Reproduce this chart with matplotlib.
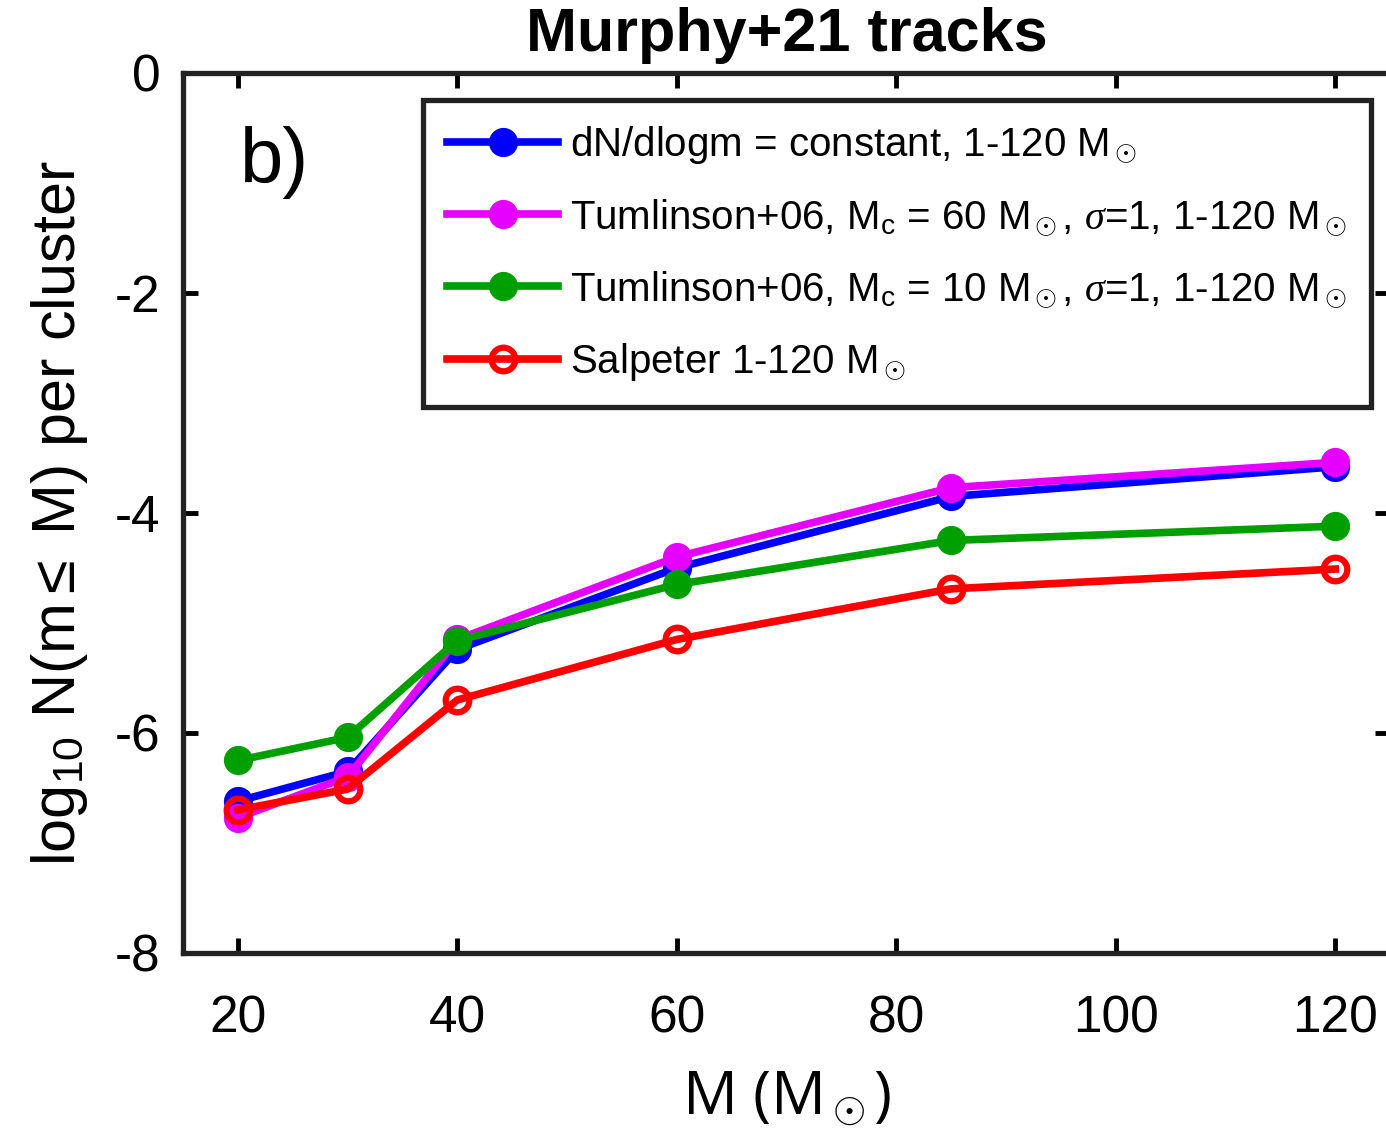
import matplotlib.pyplot as plt

plt.rcParams['font.family'] = ['Liberation Sans', 'DejaVu Sans']
plt.rcParams['mathtext.fontset'] = 'custom'
plt.rcParams['mathtext.rm'] = 'Liberation Sans'
plt.rcParams['mathtext.it'] = 'Liberation Serif:italic'
plt.rcParams['axes.unicode_minus'] = False

mass = [20, 30, 40, 60, 85, 120]
n_const = [-6.62, -6.35, -5.24, -4.50, -3.85, -3.58]
n_tum60 = [-6.77, -6.40, -5.15, -4.40, -3.77, -3.54]
n_tum10 = [-6.25, -6.04, -5.16, -4.65, -4.25, -4.12]
n_salp = [-6.70, -6.51, -5.70, -5.15, -4.69, -4.51]

labels = [r'dN/dlogm = constant, 1-120 M$_\odot$',
          r'Tumlinson+06, M$_{\rm c}$ = 60 M$_\odot$, $\sigma$=1, 1-120 M$_\odot$',
          r'Tumlinson+06, M$_{\rm c}$ = 10 M$_\odot$, $\sigma$=1, 1-120 M$_\odot$',
          r'Salpeter 1-120 M$_\odot$']

fig = plt.figure(figsize=(13.86, 11.38), dpi=100)
ax = fig.add_axes([0.132, 0.1626, 0.871, 0.7733])

lw = 5.5
ax.plot(mass, n_const, '-o', color='#0000ff', lw=lw, ms=20, label=labels[0])
ax.plot(mass, n_tum60, '-o', color='#e600ff', lw=lw, ms=20, label=labels[1])
ax.plot(mass, n_tum10, '-o', color='#009f00', lw=lw, ms=20, label=labels[2])
ax.plot(mass, n_salp, '-o', color='#ff0000', lw=lw, ms=17, mfc='none', mew=4.5, label=labels[3])

ax.set_xlim(15, 125)
ax.set_ylim(-8, 0)
ax.set_xticks([20, 40, 60, 80, 100, 120])
ax.set_yticks([-8, -6, -4, -2, 0])
ax.tick_params(direction='in', top=True, right=True, length=11, width=3.5,
               labelsize=37)
ax.tick_params(axis='x', pad=30)
ax.tick_params(axis='y', pad=16)
for s in ax.spines.values():
    s.set_linewidth(3.8)
    s.set_color('#222222')

ax.set_title('Murphy+21 tracks', fontsize=44, fontweight='bold', pad=16)
ax.set_xlabel(r'M (M$_\odot$)', fontsize=44, labelpad=18,
              family=['Open Sans', 'DejaVu Sans'])
ax.set_ylabel(r'log$_{10}$ N(m$\leq$ M) per cluster', fontsize=44, labelpad=18)
ax.text(0.047, 0.875, 'b)', transform=ax.transAxes, fontsize=56)

leg = ax.legend(loc='upper left', bbox_to_anchor=(0.199, 0.969), borderaxespad=0,
                fontsize=29, handlelength=2.75, handletextpad=0.3, labelspacing=0.78,
                fancybox=False, framealpha=1, edgecolor='#222222',
                borderpad=0.6)
leg.get_frame().set_linewidth(3.8)

fig.savefig('out.png', dpi=100)
